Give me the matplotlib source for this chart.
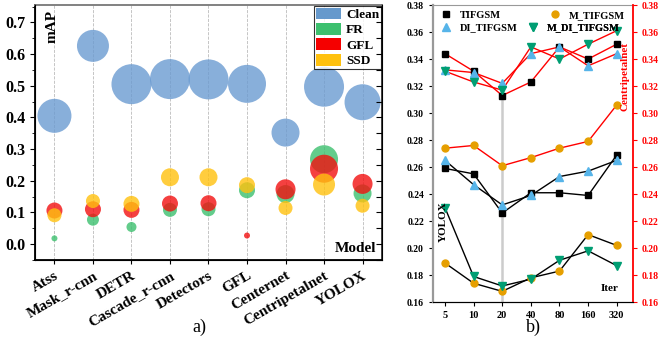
import numpy as np
import matplotlib.pyplot as plt
import matplotlib.transforms as mtransforms
from matplotlib.patches import Patch
from matplotlib.lines import Line2D

plt.rcParams['font.family'] = ['Liberation Serif', 'DejaVu Serif']

# ---- panel a) data ----
models = ["Atss", "Mask_r-cnn", "DETR", "Cascade_r-cnn", "Detectors",
          "GFL", "Centernet", "Centripetalnet", "YOLOX"]
clean = [0.405, 0.626, 0.505, 0.521, 0.520, 0.506, 0.352, 0.497, 0.448]
fr = [0.018, 0.077, 0.054, 0.108, 0.110, 0.170, 0.158, 0.268, 0.160]
gfl = [0.106, 0.110, 0.108, 0.128, 0.129, 0.027, 0.173, 0.238, 0.190]
ssd = [0.091, 0.136, 0.127, 0.211, 0.211, 0.186, 0.114, 0.188, 0.121]
# bubble radius (px)
clean_r = [17, 16, 20, 20, 20, 19, 14, 20, 18]
fr_r = [3, 6, 5, 7, 7, 8, 9, 14, 9]
gfl_r = [8, 8, 8, 8, 8, 3, 10, 14, 10]
ssd_r = [7, 7, 8, 9, 9, 8, 7, 11, 7]

# ---- panel b) data ----
iters = ["5", "10", "20", "40", "80", "160", "320"]
cp_tifgsm = [0.344, 0.331, 0.313, 0.323, 0.349, 0.340, 0.351]
cp_di = [0.332, 0.330, 0.322, 0.344, 0.349, 0.335, 0.344]
cp_mdi = [0.331, 0.323, 0.317, 0.349, 0.340, 0.351, 0.361]
cp_mtif = [0.274, 0.276, 0.261, 0.267, 0.274, 0.279, 0.306]
yo_tifgsm = [0.259, 0.255, 0.226, 0.241, 0.241, 0.239, 0.269]
yo_di = [0.265, 0.247, 0.232, 0.239, 0.253, 0.257, 0.265]
yo_mdi = [0.230, 0.179, 0.172, 0.177, 0.191, 0.198, 0.187]
yo_mtif = [0.189, 0.174, 0.168, 0.178, 0.183, 0.210, 0.202]


def area(r):
    return (2 * np.array(r) * 0.72) ** 2


fig = plt.figure(figsize=(6.64, 3.58), dpi=100)

# ================= a) =================
ax = fig.add_axes([0.053, 0.274, 0.522, 0.712])
x = np.arange(len(models))
for xi in x:
    ax.axvline(xi, color='#bbbbbb', ls='--', lw=0.6, zorder=0)

colors = ['#6b9bd1', '#3cc06e', '#f21010', '#ffc10e']
for vals, rr, c in zip([clean, fr, gfl, ssd], [clean_r, fr_r, gfl_r, ssd_r], colors):
    ax.scatter(x, vals, s=area(rr), color=c, alpha=0.8, edgecolors='none', zorder=3)

ax.set_xlim(-0.5, 8.5)
ax.set_ylim(-0.05, 0.755)
ax.set_yticks(np.arange(0, 0.71, 0.1))
ax.set_yticks(np.arange(-0.05, 0.751, 0.05), minor=True)
ax.set_yticklabels(["%.1f" % v for v in np.arange(0, 0.71, 0.1)],
                   fontsize=11.5, fontweight='bold')
ax.set_xticks(x)
ax.set_xticklabels(models, rotation=30, ha='right', rotation_mode='anchor',
                   fontsize=11, fontweight='bold')
shift = mtransforms.ScaledTranslation(0.09, 0, fig.dpi_scale_trans)
for lab in ax.get_xticklabels():
    lab.set_transform(lab.get_transform() + shift)
ax.tick_params(axis='y', which='both', direction='out', right=False)
ax.tick_params(axis='x', length=3)
ax.spines['top'].set_color('#777777')
ax.spines['right'].set_color('#333333')
for s in ax.spines.values():
    s.set_linewidth(1.3)

# inward ticks on right spine
axr = ax.twinx()
axr.set_ylim(ax.get_ylim())
axr.set_yticks(np.arange(-0.05, 0.751, 0.05))
axr.set_yticklabels([])
axr.tick_params(axis='y', direction='in', length=4)
axr.spines['top'].set_visible(False)

ax.text(0.03, 0.98, "mAP", transform=ax.transAxes, rotation=90, va='top',
        ha='left', fontsize=11, fontweight='bold')
ax.text(0.985, 0.02, "Model", transform=ax.transAxes, va='bottom', ha='right',
        fontsize=11, fontweight='bold')

handles = [Patch(facecolor=c, label=l) for c, l in
           zip(['#6699cc', '#3cc06e', '#f50000', '#ffc10e'], ["Clean", "FR", "GFL", "SSD"])]
leg = ax.legend(handles=handles, loc='upper right', frameon=True, fancybox=False,
                prop={'weight': 'bold', 'size': 9.5}, handlelength=1.9, handleheight=1.0,
                borderpad=0.15, labelspacing=0.15, handletextpad=0.4, borderaxespad=0.05)
leg.get_frame().set_edgecolor('black')
leg.get_frame().set_linewidth(0.8)
leg.set_zorder(10)

fig.text(0.30, 0.085, "a)", ha='center', va='center', fontsize=13)

# ================= b) =================
bx = fig.add_axes([0.652, 0.156, 0.301, 0.830])
xi = np.arange(len(iters))
bx.plot([2, 2], [0.16, 0.313], color='#cccccc', lw=1.8, zorder=0)

mk = [('s', 'black', 'TIFGSM', 4.5), ('^', '#56b4e9', 'DI_TIFGSM', 5.5),
      ('o', '#e69f00', 'M_TIFGSM', 5), ('v', '#009e73', 'M_DI_TIFGSM', 5.5)]
cp_sets = [cp_tifgsm, cp_di, cp_mtif, cp_mdi]
yo_sets = [yo_tifgsm, yo_di, yo_mtif, yo_mdi]
for (m, c, l, ms), cp, yo in zip(mk, cp_sets, yo_sets):
    bx.plot(xi, cp, color='red', lw=1.0, zorder=2)
    bx.plot(xi, yo, color='black', lw=1.0, zorder=2)
    bx.plot(xi, cp, ls='none', marker=m, color=c, ms=ms, zorder=3)
    bx.plot(xi, yo, ls='none', marker=m, color=c, ms=ms, zorder=3)

bx.set_xlim(-0.42, 6.56)
bx.set_ylim(0.16, 0.38)
yt = np.arange(0.16, 0.381, 0.02)
bx.set_yticks(yt)
bx.set_yticklabels(["%.2f" % v for v in yt], fontsize=7, fontweight='bold')
bx.set_xticks(xi)
bx.set_xticklabels(iters, fontsize=7.5, fontweight='bold')
bx.tick_params(axis='both', length=3)
bx.spines['left'].set_color('#999999')
bx.spines['left'].set_linewidth(1.6)
bx.spines['top'].set_color('#999999')
bx.spines['right'].set_visible(False)

br = bx.twinx()
br.set_ylim(0.16, 0.38)
br.set_yticks(yt)
br.set_yticklabels(["%.2f" % v for v in yt], fontsize=7, fontweight='bold', color='red')
br.tick_params(axis='y', colors='red', length=3)
br.spines['right'].set_color('red')
br.spines['right'].set_linewidth(1.3)
br.spines['left'].set_visible(False)
br.spines['top'].set_visible(False)

bx.text(0.985, 0.76, "Centripetalnet", transform=bx.transAxes, rotation=90,
        va='center', ha='right', color='red', fontsize=8, fontweight='bold')
bx.text(0.03, 0.27, "YOLOX", transform=bx.transAxes, rotation=90, va='center',
        ha='left', fontsize=8, fontweight='bold')
bx.text(0.93, 0.03, "Iter", transform=bx.transAxes, va='bottom', ha='right',
        fontsize=8, fontweight='bold')

# legend entries placed one by one (columns are not aligned in the original)
spots = [(0.04, 0.966), (0.04, 0.923), (0.585, 0.966), (0.475, 0.923)]
for (m, c, l, ms), (px, py) in zip(mk, spots):
    h = Line2D([], [], ls='none', marker=m, color=c, ms=ms, label=l)
    lg = bx.legend(handles=[h], loc='center left', bbox_to_anchor=(px, py),
                   frameon=False, prop={'weight': 'bold', 'size': 7.5},
                   handlelength=1.0, handletextpad=0.8, borderpad=0, borderaxespad=0)
    bx.add_artist(lg)

fig.text(0.803, 0.085, "b)", ha='center', va='center', fontsize=13)

fig.savefig('out.png', dpi=100)
